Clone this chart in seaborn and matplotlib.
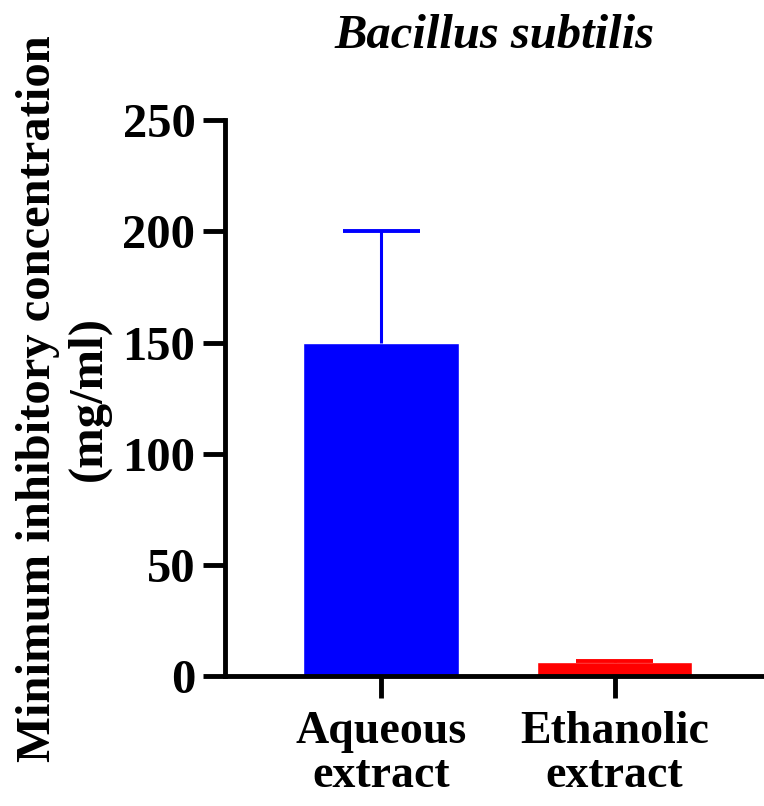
import numpy as np
import pandas as pd
import seaborn as sns
import matplotlib.pyplot as plt

# values
extracts = ['Aqueous\nextract', 'Ethanolic\nextract']
mic_mean = [150, 6.25]
mic_err = [50, 0.8]
bar_colors = ['#0000FF', '#FF0000']

df = pd.DataFrame({'extract': extracts, 'mic': mic_mean})

sns.set_style('ticks')
plt.rcParams['font.family'] = ['Liberation Serif', 'DejaVu Serif']
plt.rcParams['font.weight'] = 'bold'
plt.rcParams['text.color'] = 'black'
plt.rcParams['axes.labelcolor'] = 'black'
plt.rcParams['xtick.color'] = 'black'
plt.rcParams['ytick.color'] = 'black'
plt.rcParams['axes.edgecolor'] = 'black'

fig = plt.figure(figsize=(7.64, 8.06), dpi=100)
ax = fig.add_axes([0.294, 0.161, 0.706, 0.690])

sns.barplot(data=df, x='extract', y='mic', hue='extract', palette=bar_colors,
            width=0.667, saturation=1, legend=False, ax=ax)

# upper error bars only (stem + top cap)
for i, (m, e) in enumerate(zip(mic_mean, mic_err)):
    ax.vlines(i, m, m + e, color=bar_colors[i], lw=2.2)
    ax.hlines(m + e, i - 0.165, i + 0.165, color=bar_colors[i], lw=2.8)

ax.set_ylim(0, 250)
ax.set_xlim(-0.67, 1.64)
ax.set_yticks([0, 50, 100, 150, 200, 250])
ax.set_xlabel('')
ax.set_ylabel('Minimum inhibitory concentration\n(mg/ml)', fontsize=35,
              fontweight='bold', labelpad=8)
ax.set_title('Bacillus subtilis', fontsize=35, fontweight='bold',
             style='italic', pad=52)

sns.despine(ax=ax)
for s in ['left', 'bottom']:
    ax.spines[s].set_linewidth(3.5)
ax.tick_params(axis='both', width=3.5, length=16)
ax.tick_params(axis='y', labelsize=35, pad=5)
ax.tick_params(axis='x', labelsize=33, pad=9)
for lab in ax.get_xticklabels() + ax.get_yticklabels():
    lab.set_fontweight('bold')
for lab in ax.get_xticklabels():
    lab.set_linespacing(1.05)

fig.savefig('out.png', dpi=100)
